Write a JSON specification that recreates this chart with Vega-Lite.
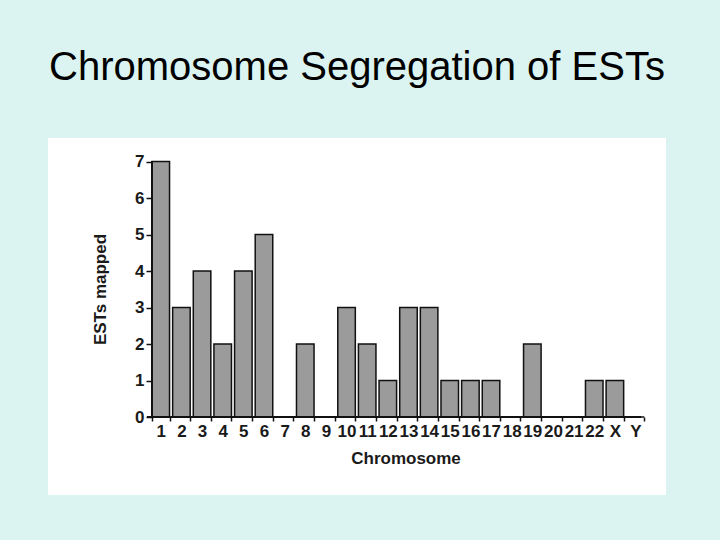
{
  "$schema": "https://vega.github.io/schema/vega-lite/v6.json",
  "width": 618,
  "height": 357,
  "autosize": {"type": "none"},
  "padding": {"left": 48, "top": 138, "right": 54, "bottom": 45},
  "background": "#dbf4f1",
  "view": {"fill": "white", "stroke": null},
  "title": {
    "text": "Chromosome Segregation of ESTs",
    "font": "Liberation Sans",
    "fontSize": 40,
    "fontWeight": "normal",
    "color": "#000000",
    "anchor": "middle",
    "baseline": "alphabetic",
    "offset": 18
  },
  "data": {
    "values": [
      {"chromosome": "1", "ests": 7},
      {"chromosome": "2", "ests": 3},
      {"chromosome": "3", "ests": 4},
      {"chromosome": "4", "ests": 2},
      {"chromosome": "5", "ests": 4},
      {"chromosome": "6", "ests": 5},
      {"chromosome": "7", "ests": 0},
      {"chromosome": "8", "ests": 2},
      {"chromosome": "9", "ests": 0},
      {"chromosome": "10", "ests": 3},
      {"chromosome": "11", "ests": 2},
      {"chromosome": "12", "ests": 1},
      {"chromosome": "13", "ests": 3},
      {"chromosome": "14", "ests": 3},
      {"chromosome": "15", "ests": 1},
      {"chromosome": "16", "ests": 1},
      {"chromosome": "17", "ests": 1},
      {"chromosome": "18", "ests": 0},
      {"chromosome": "19", "ests": 2},
      {"chromosome": "20", "ests": 0},
      {"chromosome": "21", "ests": 0},
      {"chromosome": "22", "ests": 1},
      {"chromosome": "X", "ests": 1},
      {"chromosome": "Y", "ests": 0}
    ]
  },
  "layer": [
    {
      "mark": {"type": "bar", "fill": "#9b9b9b", "stroke": "#111111", "strokeWidth": 1.5},
      "encoding": {
        "x": {
          "field": "chromosome",
          "type": "nominal",
          "sort": null,
          "scale": {"range": [104, 596.3], "paddingInner": 0.15, "paddingOuter": 0, "round": false},
          "axis": {
            "title": "Chromosome",
            "titleFont": "Liberation Sans",
            "titleFontSize": 17,
            "titleFontWeight": "bold",
            "titleColor": "#1a1a1a",
            "titleX": 357.5,
            "titleY": 41,
            "titleBaseline": "middle",
            "titleAlign": "center",
            "labelAngle": 0,
            "labelFont": "Liberation Sans",
            "labelFontSize": 17,
            "labelFontWeight": "bold",
            "labelColor": "#1a1a1a",
            "labelPadding": 2,
            "labelOverlap": false,
            "labelFlush": false,
            "labelBound": false,
            "tickBand": "extent",
            "tickSize": 4,
            "tickColor": "#111111",
            "tickWidth": 1.5,
            "domain": false,
            "grid": false,
            "offset": -78
          }
        },
        "y": {
          "field": "ests",
          "type": "quantitative",
          "scale": {"domain": [-2.137, 7.644], "nice": false, "zero": false},
          "axis": {
            "title": "ESTs mapped",
            "titleFont": "Liberation Sans",
            "titleFontSize": 17,
            "titleFontWeight": "bold",
            "titleColor": "#1a1a1a",
            "titleX": -52,
            "titleY": 151,
            "titleAngle": -90,
            "titleBaseline": "middle",
            "titleAlign": "center",
            "values": [0, 1, 2, 3, 4, 5, 6, 7],
            "format": "d",
            "labelFont": "Liberation Sans",
            "labelFontSize": 17,
            "labelFontWeight": "bold",
            "labelColor": "#1a1a1a",
            "labelPadding": 2,
            "tickSize": 6,
            "tickColor": "#111111",
            "tickWidth": 1.5,
            "domain": false,
            "grid": false,
            "offset": -104
          }
        },
        "y2": {"datum": 0}
      }
    },
    {
      "mark": {"type": "rule", "color": "#111111", "strokeWidth": 2, "xOffset": -5, "x2Offset": 5},
      "encoding": {
        "x": {"datum": "1", "bandPosition": 0},
        "x2": {"datum": "Y"},
        "y": {"datum": 0}
      }
    },
    {
      "mark": {"type": "rule", "color": "#111111", "strokeWidth": 2},
      "encoding": {
        "x": {"datum": "1", "bandPosition": 0},
        "y": {"datum": 0},
        "y2": {"datum": 7}
      }
    }
  ]
}
